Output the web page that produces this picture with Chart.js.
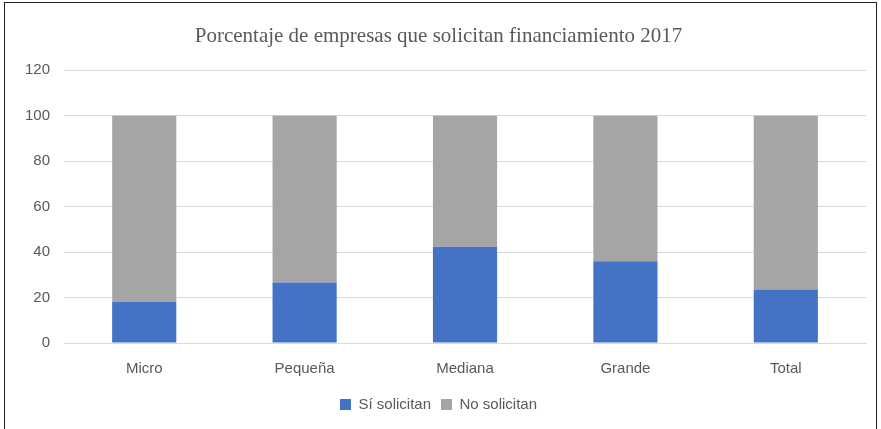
<!DOCTYPE html>
<html>
<head>
<meta charset="utf-8">
<script src="https://cdn.jsdelivr.net/npm/chart.js@4/dist/chart.umd.min.js"></script>
<style>
  html, body { margin: 0; padding: 0; background: #fff; }
  #frame { position: absolute; left: 4px; top: 2px; width: 873px; height: 430px; border: 1px solid #222; box-sizing: border-box; }
  #wrap { position: absolute; left: 0; top: 0; width: 871px; height: 428px; }
</style>
</head>
<body>
<div id="frame"><div id="wrap"><canvas id="c"></canvas></div></div>
<script>
// datos
const categorias = ['Micro', 'Pequeña', 'Mediana', 'Grande', 'Total'];
const siSolicitan = [18, 26.6, 42.3, 36, 23.5];
const noSolicitan = [82, 73.4, 57.7, 64, 76.5];
const ticksY = [0, 20, 40, 60, 80, 100, 120];

const gris = '#595959';

new Chart(document.getElementById('c'), {
  type: 'bar',
  data: {
    labels: categorias,
    datasets: [
      { label: 'Sí solicitan', data: siSolicitan, backgroundColor: '#4472c4', borderWidth: 0 },
      { label: 'No solicitan', data: noSolicitan, backgroundColor: '#a5a5a5', borderWidth: 0 }
    ]
  },
  options: {
    responsive: true,
    maintainAspectRatio: false,
    animation: false,
    layout: { padding: { left: 6, right: 10, top: 8, bottom: 9 } },
    plugins: {
      title: {
        display: true,
        text: 'Porcentaje de empresas que solicitan financiamiento 2017',
        color: gris,
        font: { family: 'Liberation Serif', size: 21, weight: 'normal' },
        padding: { top: 13, bottom: 21 }
      },
      legend: {
        position: 'bottom',
        labels: {
          color: gris,
          font: { family: 'Liberation Sans', size: 15 },
          boxWidth: 11,
          boxHeight: 11,
          padding: 10
        }
      },
      tooltip: { enabled: false }
    },
    scales: {
      x: {
        stacked: true,
        grid: { display: false },
        border: { display: true, color: '#d9d9d9' },
        ticks: { color: gris, font: { family: 'Liberation Sans', size: 15 }, padding: 9 }
      },
      y: {
        stacked: true,
        min: 0,
        max: 120,
        afterBuildTicks: (axis) => { axis.ticks = ticksY.map(v => ({ value: v })); },
        grid: { color: '#d9d9d9', drawTicks: false },
        border: { display: false },
        ticks: { color: gris, font: { family: 'Liberation Sans', size: 15 }, padding: 14 }
      }
    },
    datasets: { bar: { categoryPercentage: 1, barPercentage: 0.4 } }
  }
});
</script>
</body>
</html>
